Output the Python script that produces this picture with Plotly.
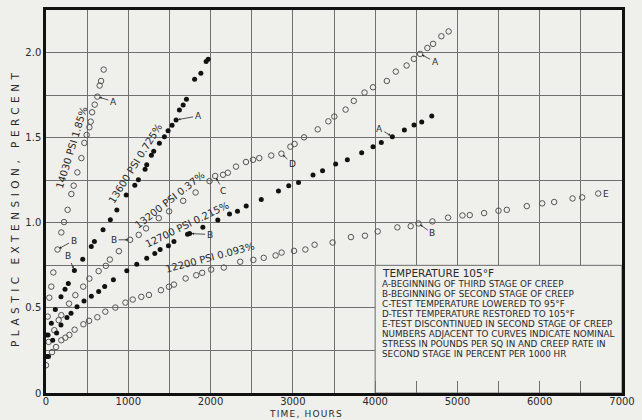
import plotly.graph_objects as go

# ---------------- data (hours, percent) ----------------
h14030 = [20, 40, 64, 89, 140, 186, 219, 263, 308, 336, 381, 430, 466, 494, 527, 543, 560, 592, 624, 652, 669, 701]
p14030 = [0.449, 0.56, 0.625, 0.708, 0.843, 0.943, 1.004, 1.076, 1.169, 1.218, 1.296, 1.38, 1.469, 1.516, 1.561,
          1.594, 1.649, 1.694, 1.741, 1.806, 1.833, 1.90]

h13600 = [0, 25, 65, 113, 182, 231, 271, 345, 446, 550, 588, 693, 782, 861, 975, 1079, 1123, 1204, 1224, 1281,
          1309, 1378, 1439, 1484, 1532, 1581, 1621, 1667, 1707, 1806, 1882, 1946, 1971]
p13600 = [0.34, 0.34, 0.41, 0.49, 0.566, 0.61, 0.643, 0.72, 0.786, 0.861, 0.89, 0.959, 1.018, 1.075, 1.163, 1.22,
          1.253, 1.314, 1.341, 1.396, 1.42, 1.467, 1.506, 1.541, 1.573, 1.604, 1.663, 1.692, 1.725, 1.843, 1.878,
          1.947, 1.961]

h13200 = [32, 101, 154, 186, 280, 357, 452, 527, 640, 727, 776, 886, 1022, 1127, 1216, 1371, 1496, 1667, 1818,
          1987, 2056, 2151, 2210, 2309, 2430, 2516, 2592, 2737, 2861, 2970, 3021, 3136, 3302, 3431, 3504, 3641,
          3740, 3871, 3974, 4142, 4251, 4382, 4471, 4547, 4635, 4704, 4805, 4893]
p13200 = [0.30, 0.369, 0.428, 0.457, 0.525, 0.575, 0.625, 0.672, 0.716, 0.747, 0.784, 0.833, 0.90, 0.929, 0.967,
          1.027, 1.067, 1.129, 1.178, 1.245, 1.275, 1.282, 1.294, 1.33, 1.357, 1.37, 1.38, 1.395, 1.406, 1.447,
          1.463, 1.502, 1.549, 1.596, 1.624, 1.665, 1.716, 1.765, 1.796, 1.833, 1.888, 1.924, 1.963, 1.992, 2.027,
          2.051, 2.096, 2.124]

h12700 = [10, 30, 81, 129, 182, 255, 304, 377, 462, 551, 640, 713, 819, 982, 1103, 1224, 1322, 1387, 1488, 1555,
          1720, 1745, 1906, 2088, 2230, 2327, 2433, 2616, 2825, 2950, 3069, 3245, 3361, 3520, 3662, 3836, 3974,
          4075, 4209, 4355, 4473, 4566, 4688]
p12700 = [0.214, 0.214, 0.31, 0.353, 0.40, 0.443, 0.469, 0.506, 0.541, 0.569, 0.596, 0.625, 0.665, 0.718, 0.757,
          0.792, 0.82, 0.843, 0.865, 0.89, 0.933, 0.937, 0.973, 1.016, 1.051, 1.067, 1.098, 1.137, 1.187, 1.217,
          1.237, 1.28, 1.306, 1.345, 1.371, 1.412, 1.447, 1.472, 1.506, 1.545, 1.575, 1.592, 1.627]

h12200 = [0, 73, 122, 186, 235, 284, 348, 454, 523, 624, 721, 843, 965, 1054, 1158, 1251, 1397, 1494, 1555, 1697,
          1826, 1898, 2007, 2161, 2360, 2520, 2646, 2790, 2863, 3014, 3152, 3264, 3483, 3706, 3876, 4031, 4270,
          4432, 4526, 4696, 4886, 5061, 5150, 5324, 5499, 5600, 5843, 6030, 6176, 6399, 6516, 6711]
p12200 = [0.163, 0.24, 0.27, 0.31, 0.325, 0.341, 0.372, 0.404, 0.424, 0.445, 0.478, 0.502, 0.531, 0.549, 0.565,
          0.576, 0.604, 0.624, 0.637, 0.673, 0.692, 0.706, 0.725, 0.737, 0.771, 0.782, 0.794, 0.808, 0.825, 0.835,
          0.843, 0.871, 0.884, 0.916, 0.924, 0.949, 0.973, 0.98, 0.996, 1.008, 1.03, 1.043, 1.045, 1.057, 1.071,
          1.076, 1.098, 1.114, 1.122, 1.143, 1.149, 1.172]

curve_labels = ["14030 PSI 1.85%", "13600 PSI 0.725%", "13200 PSI 0.37%", "12700 PSI 0.215%", "12200 PSI 0.093%"]

legend_title = "TEMPERATURE 105°F"
legend_lines = [
    "A-BEGINNING OF THIRD STAGE OF CREEP",
    "B-BEGINNING OF SECOND STAGE OF CREEP",
    "C-TEST TEMPERATURE LOWERED TO 95°F",
    "D-TEST TEMPERATURE RESTORED TO 105°F",
    "E-TEST DISCONTINUED IN SECOND STAGE OF CREEP",
    "NUMBERS ADJACENT TO CURVES INDICATE NOMINAL",
    "STRESS IN POUNDS PER SQ IN AND CREEP RATE IN",
    "SECOND STAGE IN PERCENT PER 1000 HR",
]

x_ticks = [0, 1000, 2000, 3000, 4000, 5000, 6000, 7000]
y_ticks = [0, 0.5, 1.0, 1.5, 2.0]
y_ticktext = ["0", "0.5", "1.0", "1.5", "2.0"]

# ---------------- figure ----------------
BG = "#efefec"
INK = "#2a2a2a"
GRID = "#707070"
W, H = 642, 420
L, R, T, B = 46, 20, 10, 27
XMAX, YMAX = 7000, 2.25
PW, PH = W - L - R, H - T - B

def px2x(px):
    return (px - L) / PW * XMAX

def py2y(py):
    return (H - B - py) / PH * YMAX

def px2paper(px):
    return (px - L) / PW

def py2paper(py):
    return (H - B - py) / PH

fig = go.Figure()

def add(hs, ps, filled):
    fig.add_trace(go.Scatter(
        x=hs, y=ps, mode="markers", showlegend=False, hoverinfo="skip", cliponaxis=False,
        marker=dict(symbol="circle" if filled else "circle-open", size=5 if filled else 5.5,
                    color="#111" if filled else "#555",
                    line=dict(width=1 if not filled else 0, color="#555"))))

add(h14030, p14030, False)
add(h13600, p13600, True)
add(h13200, p13200, False)
add(h12700, p12700, True)
add(h12200, p12200, False)

ann = []
# curve labels (center pixel, angle)
lab_pos = [((71, 148), -73), ((135, 163), -58), ((169, 200), -38), ((187, 224), -26), ((210, 257), -15)]
for txt, ((cx, cy), ang) in zip(curve_labels, lab_pos):
    ann.append(dict(x=px2x(cx), y=py2y(cy), xref="x", yref="y", text=txt, showarrow=False,
                    textangle=ang, font=dict(family="DejaVu Sans", size=10, color=INK)))

# marker letters with arrows: (letter, point x, point y, ax, ay)
marks = [("A", h14030[18], p14030[18], 16, 5),
         ("A", h13600[25], p13600[25], 22, -4),
         ("A", h13200[43], p13200[43], 15, 8),
         ("A", h12700[38], p12700[38], -13, -8),
         ("C", h13200[20], p13200[20], 8, 15),
         ("D", h13200[28], p13200[28], 11, 10),
         ("B", h14030[4], p14030[4], 16, -9),
         ("B", h13600[7], p13600[7], -6, -14),
         ("B", h13200[12], p13200[12], -16, 0),
         ("B", h12700[21], p12700[21], 20, 1),
         ("B", h12200[38], p12200[38], 14, 10)]
for letter, x, y, ax, ay in marks:
    ann.append(dict(x=x, y=y, xref="x", yref="y", text=letter, showarrow=True, ax=ax, ay=ay,
                    arrowhead=2, arrowsize=0.6, arrowwidth=0.8, arrowcolor=INK, standoff=2,
                    font=dict(family="DejaVu Sans", size=9, color=INK)))
ann.append(dict(x=h12200[-1], y=p12200[-1], xref="x", yref="y", text="E", showarrow=False,
                xanchor="left", xshift=3, font=dict(family="DejaVu Sans", size=9, color=INK)))

# legend block
ann.append(dict(x=px2x(380), y=py2y(273), xref="x", yref="y", text=legend_title, showarrow=False,
                xanchor="left", yanchor="middle", font=dict(family="DejaVu Sans", size=10.5, color=INK)))
for i, line in enumerate(legend_lines):
    ann.append(dict(x=px2x(380), y=py2y(284 + 10 * i), xref="x", yref="y", text=line, showarrow=False,
                    xanchor="left", yanchor="middle", font=dict(family="DejaVu Sans", size=8.8, color=INK)))

# axis titles
ann.append(dict(x=px2paper(15), y=py2paper(208), xref="paper", yref="paper",
                xanchor="center", yanchor="middle",
                text='<span style="letter-spacing:4.5px">PLASTIC EXTENSION, PERCENT</span>',
                showarrow=False, textangle=-90, font=dict(family="DejaVu Sans", size=10.5, color=INK)))
ann.append(dict(x=px2paper(306), y=py2paper(414), xref="paper", yref="paper",
                xanchor="center", yanchor="middle",
                text='<span style="letter-spacing:1.2px">TIME, HOURS</span>',
                showarrow=False, font=dict(family="DejaVu Sans", size=9, color=INK)))

fig.update_layout(
    width=W, height=H, margin=dict(l=L, r=R, t=T, b=B, autoexpand=False),
    paper_bgcolor=BG, plot_bgcolor=BG, annotations=ann,
    shapes=[dict(type="rect", xref="x", yref="y", x0=4000, x1=7000, y0=0, y1=0.75,
                 fillcolor=BG, line=dict(color=GRID, width=1), layer="between")],
    font=dict(family="DejaVu Sans", color=INK),
)
fig.update_xaxes(range=[0, XMAX], tickvals=x_ticks, ticktext=[str(v) for v in x_ticks],
                 showgrid=True, gridcolor=GRID, gridwidth=1, zeroline=False, automargin=False,
                 showline=True, linecolor="#111", linewidth=2.5, mirror=True,
                 ticks="inside", ticklen=12, tickcolor=GRID, tickwidth=1, ticklabelstandoff=-3,
                 minor=dict(dtick=500, tick0=0, showgrid=True, gridcolor=GRID, gridwidth=1,
                            ticks="inside", ticklen=12, tickcolor=GRID),
                 tickfont=dict(family="DejaVu Sans", size=10, color=INK))
fig.update_yaxes(range=[0, YMAX], tickvals=y_ticks, ticktext=y_ticktext,
                 showgrid=True, gridcolor=GRID, gridwidth=1, zeroline=False, automargin=False,
                 showline=True, linecolor="#111", linewidth=2.5, mirror=True, ticks="",
                 minor=dict(dtick=0.25, tick0=0, showgrid=True, gridcolor=GRID, gridwidth=1),
                 tickfont=dict(family="DejaVu Sans", size=10, color=INK))

fig.write_html("out.html", config={"displayModeBar": False},
               post_script="document.body.style.margin='0';document.body.style.padding='0';")
